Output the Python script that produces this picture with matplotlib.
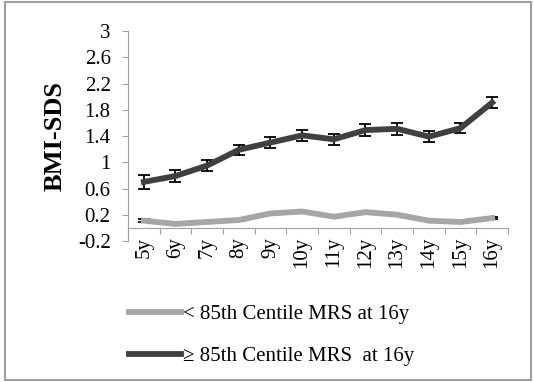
import matplotlib
matplotlib.use('Agg')
import matplotlib.pyplot as plt
from matplotlib.patches import Rectangle

ages = ['5y', '6y', '7y', '8y', '9y', '10y', '11y', '12y', '13y', '14y', '15y', '16y']
below_85 = [0.11, 0.06, 0.09, 0.12, 0.22, 0.25, 0.17, 0.24, 0.20, 0.11, 0.09, 0.15]
below_85_err = [0.02, 0.01, 0.01, 0.01, 0.01, 0.01, 0.01, 0.01, 0.01, 0.01, 0.01, 0.02]
above_85 = [0.70, 0.79, 0.95, 1.19, 1.30, 1.41, 1.35, 1.49, 1.51, 1.39, 1.52, 1.91]
above_85_err = [0.10, 0.09, 0.08, 0.08, 0.09, 0.08, 0.08, 0.09, 0.09, 0.08, 0.08, 0.09]
y_ticks = [-0.2, 0.2, 0.6, 1, 1.4, 1.8, 2.2, 2.6, 3]

plt.rcParams['font.family'] = ['Liberation Serif', 'DejaVu Serif']

fig = plt.figure(figsize=(5.34, 3.82), dpi=100)
ax = fig.add_axes([0.2397, 0.3691, 0.7116, 0.5497])

x = list(range(len(ages)))
l1 = ax.errorbar(x, below_85, yerr=below_85_err, color='#a6a6a6', lw=4.2,
                 ecolor='black', elinewidth=1.3, capsize=4.5, capthick=1.3,
                 label='< 85th Centile MRS at 16y', zorder=3)
l2 = ax.errorbar(x, above_85, yerr=above_85_err, color='#404040', lw=4.2,
                 ecolor='black', elinewidth=1.3, capsize=4.5, capthick=1.3,
                 label='\u2265 85th Centile MRS  at 16y', zorder=3)

ax.set_xlim(-0.5, len(ages) - 0.5)
ax.set_ylim(-0.2, 3)
ax.set_yticks(y_ticks)
ax.set_yticklabels(['-0.2', '0.2', '0.6', '1', '1.4', '1.8', '2.2', '2.6', '3'])
ax.set_xticks([i - 0.5 for i in range(len(ages) + 1)])
ax.set_xticklabels([])
ax.set_xticks(x, minor=True)
ax.set_xticklabels(ages, minor=True)
ax.tick_params(axis='x', which='minor', length=0, pad=6.5, labelsize=15,
               labelrotation=90)
ax.tick_params(axis='x', which='major', length=4.5, color='#a0a0a0', direction='out')
ax.tick_params(axis='y', length=4.5, color='#a0a0a0', labelsize=15, pad=8)

ax.spines['top'].set_visible(False)
ax.spines['right'].set_visible(False)
ax.spines['bottom'].set_position(('data', 0))
ax.spines['bottom'].set_color('#a0a0a0')
ax.spines['left'].set_color('#a0a0a0')
ax.set_ylabel('BMI-SDS', fontsize=19, fontweight='bold', labelpad=8)

handles = [l1.lines[0], l2.lines[0]]
fig.legend(handles, [l1.get_label(), l2.get_label()], loc='upper left',
           bbox_to_anchor=(0.207, 0.251), frameon=False, fontsize=15,
           handlelength=2.5, handletextpad=0.1, labelspacing=1.05)

fig.patches.append(Rectangle((0.009, 0.005), 0.985, 0.99, transform=fig.transFigure,
                             fill=False, edgecolor='#a0a0a0', lw=1.5))

plt.savefig('out.png', dpi=100)
plt.close()
